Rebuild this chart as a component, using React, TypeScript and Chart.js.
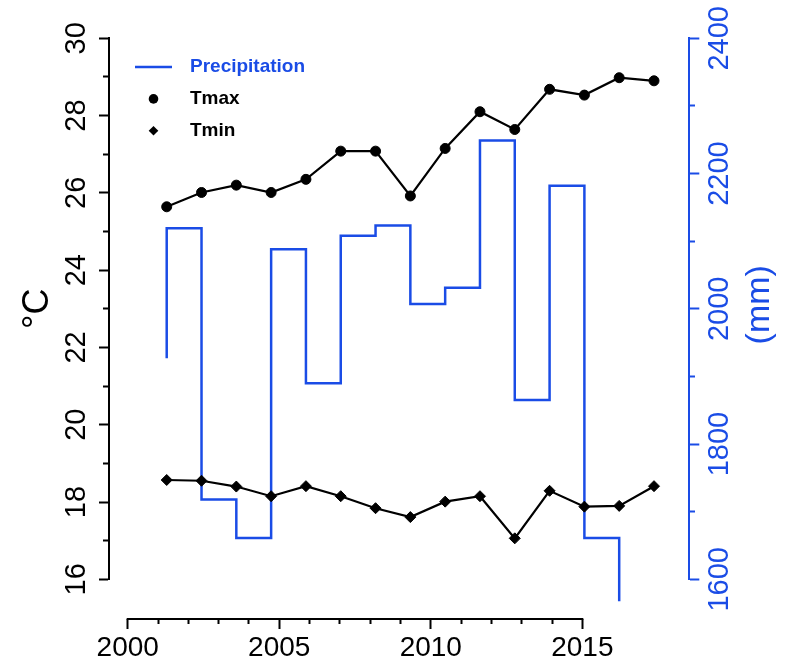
import React, { useEffect, useRef } from 'react';
import { Chart, registerables } from 'chart.js';

Chart.register(...registerables);

// ---- data ----
const years = [2001, 2002, 2003, 2004, 2005, 2006, 2007, 2008, 2009, 2010, 2011, 2012, 2013, 2014, 2015];
const tmaxValues = [25.64, 26.01, 26.2, 26.01, 26.35, 27.08, 27.08, 25.92, 27.15, 28.1, 27.64, 28.68, 28.53, 28.98, 28.9];
const tminValues = [18.57, 18.55, 18.4, 18.15, 18.41, 18.15, 17.84, 17.61, 18.01, 18.15, 17.06, 18.29, 17.88, 17.9, 18.41];
const precipValues = [1927, 2119, 1718, 1661, 2088, 1890, 2108, 2123, 2007, 2031, 2249, 1865, 2182, 1661, 1540];
const xTickLabels = [2000, 2005, 2010, 2015];
const tempTickLabels = [16, 18, 20, 22, 24, 26, 28, 30];
const precipTickLabels = [1600, 1800, 2000, 2200, 2400];

const BLUE = '#1a4ce6';
const BLACK = '#000000';
const FONT = '"Liberation Sans", Arial, Helvetica, sans-serif';

// R-style extras: x axis line limited to labelled range, right title reading upward, inset legend
const rStylePlugin = {
  id: 'rStyle',
  afterDraw(chart: any, _args: any, opts: any) {
    const { ctx, chartArea } = chart;
    ctx.save();

    // bottom axis line between first and last labelled tick
    const xs = chart.scales.x2;
    const pos = xs.options.position;
    const key = Object.keys(pos)[0];
    const yPix = Math.round(chart.scales[key].getPixelForValue(pos[key]));
    const xa = xs.getPixelForValue(xTickLabels[0]);
    const xb = xs.getPixelForValue(xTickLabels[xTickLabels.length - 1]);
    ctx.strokeStyle = BLACK;
    ctx.lineWidth = 2;
    ctx.beginPath();
    ctx.moveTo(xa - 1, yPix);
    ctx.lineTo(xb + 1, yPix);
    ctx.stroke();

    // right axis title, rotated to read upward
    const yr = chart.scales.yR;
    const t = yr.options.title;
    ctx.save();
    ctx.translate(chartArea.right + opts.rightTitleOffset, (chartArea.top + chartArea.bottom) / 2 + opts.rightTitleShift);
    ctx.rotate(-Math.PI / 2);
    ctx.font = `${opts.rightTitleSize}px ${FONT}`;
    ctx.fillStyle = t.color;
    ctx.textAlign = 'center';
    ctx.textBaseline = 'middle';
    ctx.fillText(t.text, 0, 0);
    ctx.restore();

    // inset legend
    const datasets = chart.data.datasets;
    ctx.font = `bold ${opts.legendFontSize}px ${FONT}`;
    ctx.textAlign = 'left';
    ctx.textBaseline = 'middle';
    datasets.forEach((ds: any, i: number) => {
      const cy = chartArea.top + opts.legendTop + i * opts.legendGap;
      const mx = chartArea.left + opts.legendMarkerX;
      const color = ds.borderColor;
      if (!ds.pointRadius) {
        ctx.strokeStyle = color;
        ctx.lineWidth = ds.borderWidth;
        ctx.beginPath();
        ctx.moveTo(mx - opts.legendLineLen / 2, cy);
        ctx.lineTo(mx + opts.legendLineLen / 2, cy);
        ctx.stroke();
      } else {
        ctx.fillStyle = ds.pointBackgroundColor;
        const r = opts.legendMarkerRadius;
        ctx.beginPath();
        if (ds.pointStyle === 'rectRot') {
          ctx.moveTo(mx - r, cy);
          ctx.lineTo(mx, cy - r);
          ctx.lineTo(mx + r, cy);
          ctx.lineTo(mx, cy + r);
          ctx.closePath();
        } else {
          ctx.arc(mx, cy, r, 0, Math.PI * 2);
        }
        ctx.fill();
      }
      ctx.fillStyle = color;
      ctx.fillText(ds.label, chartArea.left + opts.legendTextX, cy);
    });

    ctx.restore();
  },
};

export default function App() {
  const ref = useRef<HTMLCanvasElement>(null);

  useEffect(() => {
    if (!ref.current) return;
    const majorOrMinor = (labels: number[], minorDash: number[]) => (c: any) =>
      c.tick && labels.includes(c.tick.value) ? [] : minorDash;

    const chart = new Chart(ref.current, {
      type: 'line',
      data: {
        datasets: [
          {
            label: 'Precipitation',
            data: years.map((x, i) => ({ x, y: precipValues[i] })),
            xAxisID: 'x',
            yAxisID: 'yR',
            borderColor: BLUE,
            borderWidth: 2.5,
            pointRadius: 0,
            stepped: 'after',
            fill: false,
            order: 3,
            clip: { left: 0, top: 0, right: 0, bottom: 22 },
          } as any,
          {
            label: 'Tmax',
            data: years.map((x, i) => ({ x, y: tmaxValues[i] })),
            xAxisID: 'x',
            yAxisID: 'yL',
            borderColor: BLACK,
            backgroundColor: BLACK,
            pointBackgroundColor: BLACK,
            pointBorderColor: BLACK,
            borderWidth: 2.2,
            pointStyle: 'circle',
            pointRadius: 5,
            pointBorderWidth: 1,
            order: 1,
          },
          {
            label: 'Tmin',
            data: years.map((x, i) => ({ x, y: tminValues[i] })),
            xAxisID: 'x',
            yAxisID: 'yL',
            borderColor: BLACK,
            backgroundColor: BLACK,
            pointBackgroundColor: BLACK,
            pointBorderColor: BLACK,
            borderWidth: 2.2,
            pointStyle: 'rectRot',
            pointRadius: 5.5,
            pointBorderWidth: 1,
            order: 2,
          },
        ],
      },
      options: {
        animation: false,
        responsive: false,
        devicePixelRatio: 1,
        layout: { padding: { top: 38.3, bottom: 85.7, left: 0, right: 0 } },
        font: { family: FONT },
        plugins: {
          legend: { display: false },
          tooltip: { enabled: false },
          rStyle: {
            rightTitleOffset: 70,
            rightTitleShift: -4,
            rightTitleSize: 34,
            legendTop: 28.7,
            legendGap: 31.9,
            legendMarkerX: 44.5,
            legendTextX: 81,
            legendLineLen: 37,
            legendMarkerRadius: 4.8,
            legendFontSize: 19,
          },
        } as any,
        scales: {
          x: {
            type: 'linear',
            display: false,
            min: 1999.342,
            max: 2016.014,
          },
          x2: {
            type: 'linear',
            axis: 'x',
            position: { yL: 14.965 },
            min: 1999.383,
            max: 2018.53,
            border: { display: false },
            grid: {
              drawOnChartArea: false,
              drawTicks: true,
              tickLength: 10,
              tickWidth: 2,
              tickColor: BLACK,
              tickBorderDash: majorOrMinor(xTickLabels, [5, 30]),
            },
            ticks: {
              stepSize: 1,
              autoSkip: false,
              maxRotation: 0,
              includeBounds: false,
              color: BLACK,
              padding: 2,
              font: { size: 28, family: FONT },
              callback: (v: any) => (xTickLabels.includes(v) ? String(v) : ''),
            },
            afterBuildTicks: (s: any) => {
              s.ticks = s.ticks.filter(
                (t: any) => t.value >= xTickLabels[0] && t.value <= xTickLabels[xTickLabels.length - 1]
              );
            },
          } as any,
          yL: {
            type: 'linear',
            position: 'left',
            min: 16,
            max: 30,
            border: { display: true, color: BLACK, width: 2 },
            grid: {
              drawOnChartArea: false,
              drawTicks: true,
              tickLength: 10,
              tickWidth: 2,
              tickColor: BLACK,
              tickBorderDash: majorOrMinor(tempTickLabels, [0, 4, 30, 0]),
            },
            ticks: {
              stepSize: 1,
              autoSkip: false,
              minRotation: 90,
              maxRotation: 90,
              crossAlign: 'center',
              padding: 6,
              color: BLACK,
              font: { size: 29, family: FONT },
              callback: (v: any) => (tempTickLabels.includes(v) ? String(v) : ''),
            },
            title: {
              display: true,
              text: '°C',
              color: BLACK,
              font: { size: 36, family: FONT },
              padding: { top: 16, bottom: 0 },
            },
            afterFit: (s: any) => {
              s.width = 109;
            },
          } as any,
          yR: {
            type: 'linear',
            position: 'right',
            min: 1600,
            max: 2400,
            border: { display: true, color: BLUE, width: 2 },
            grid: {
              drawOnChartArea: false,
              drawTicks: true,
              tickLength: 10,
              tickWidth: 2,
              tickColor: BLUE,
              tickBorderDash: majorOrMinor(precipTickLabels, [5, 30]),
            },
            ticks: {
              stepSize: 100,
              autoSkip: false,
              minRotation: 90,
              maxRotation: 90,
              crossAlign: 'center',
              padding: -11.5,
              color: BLUE,
              font: { size: 29, family: FONT },
              callback: (v: any) => (precipTickLabels.includes(v) ? String(v) : ''),
            },
            title: { display: false, text: '(mm)', color: BLUE },
            afterFit: (s: any) => {
              s.width = 104.7;
            },
          } as any,
        },
      },
      plugins: [rStylePlugin],
    });
    return () => chart.destroy();
  }, []);

  return (
    <div style={{ position: 'fixed', left: 0, top: 0, width: 794, height: 665, background: '#ffffff' }}>
      <canvas ref={ref} width={794} height={665} style={{ display: 'block' }} />
    </div>
  );
}
